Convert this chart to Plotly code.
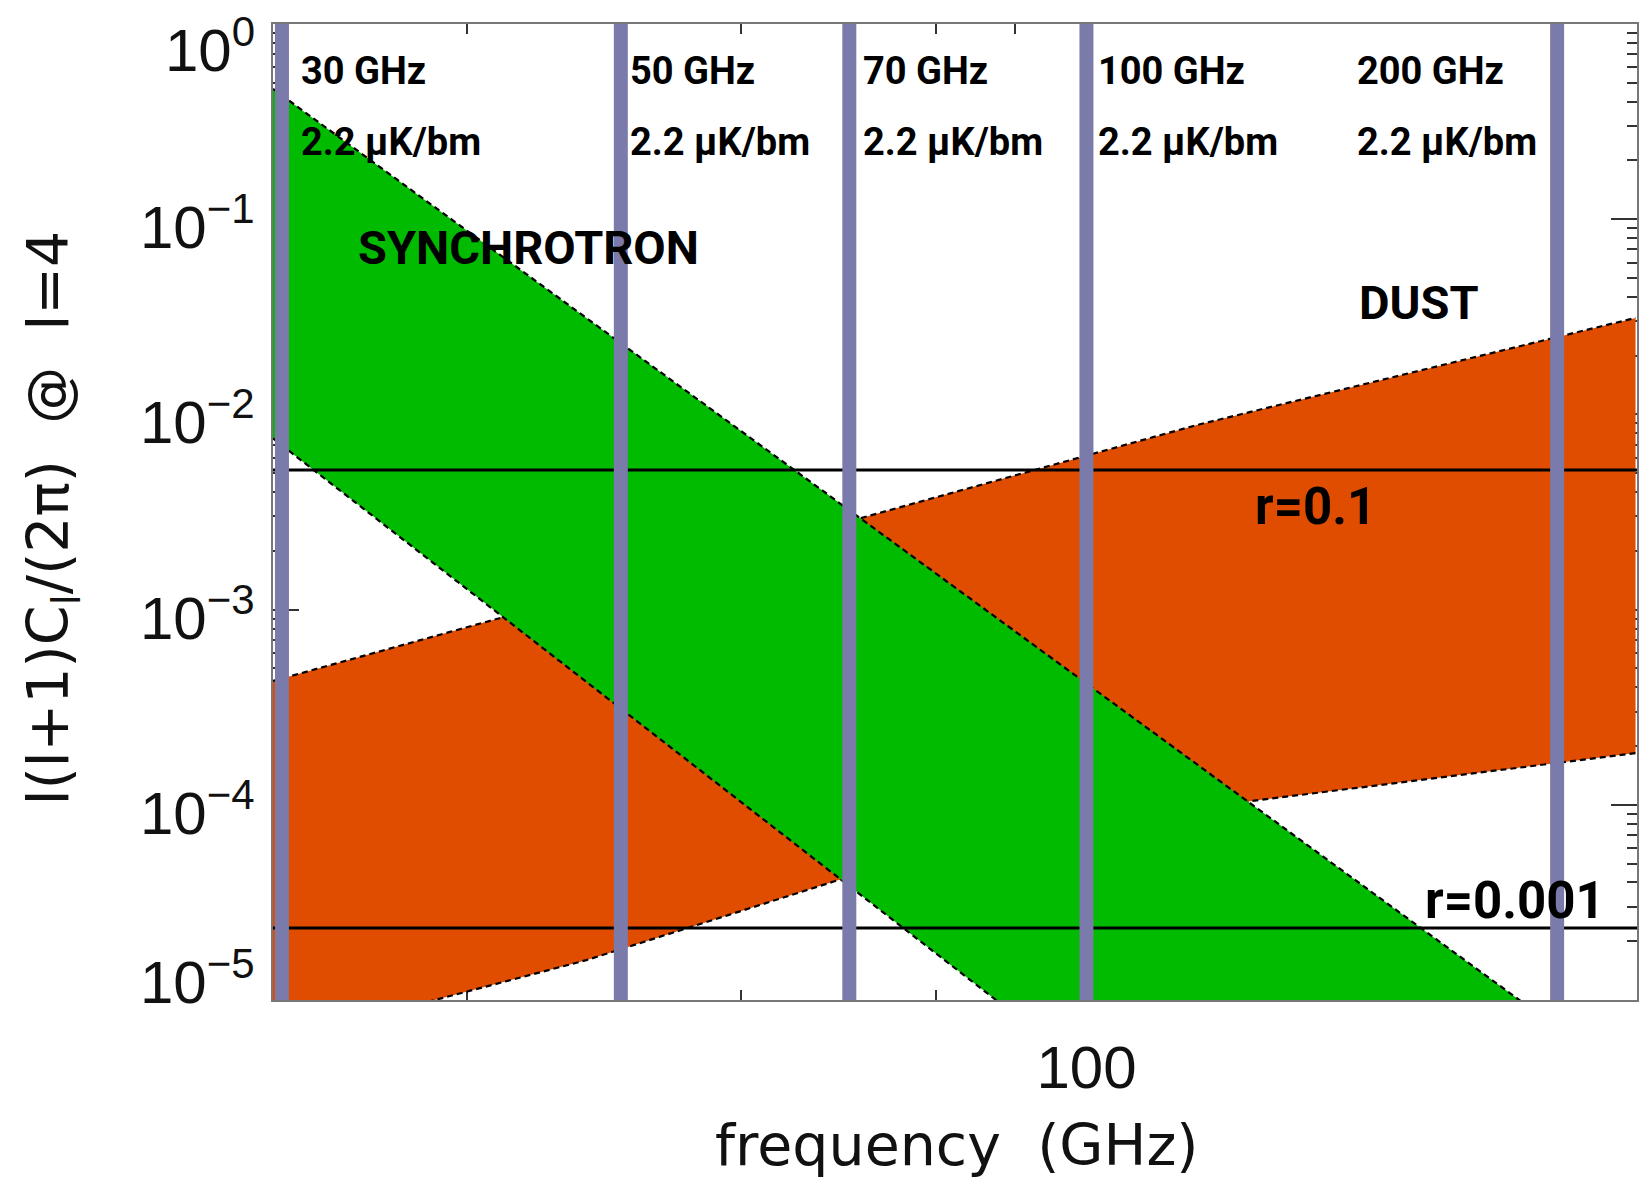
import math
import plotly.graph_objects as go

# ---- data -------------------------------------------------------------
# instrument bands (GHz) with their labels and noise levels
band_centres = [30.4, 50.2, 70.4, 100.0, 200.7]
band_names = ["30 GHz", "50 GHz", "70 GHz", "100 GHz", "200 GHz"]
band_noise = ["2.2 μK/bm", "2.2 μK/bm", "2.2 μK/bm", "2.2 μK/bm", "2.2 μK/bm"]

# synchrotron band, l(l+1)C_l/(2π) at l=4
sync_freq = [30.0, 225.4]
sync_upper = [0.465, 3.67e-6]
sync_lower = [7.53e-3, 2.85e-8]

# thermal dust band
dust_upper_freq = [30.0, 117.8, 225.4]
dust_upper = [4.31e-4, 8.83e-3, 3.12e-2]
dust_lower_freq = [30.0, 47.7, 69.3, 127.6, 225.4]
dust_lower = [6.05e-6, 1.60e-5, 4.12e-5, 1.045e-4, 1.84e-4]

# primordial B-mode reference levels
r_labels = ["r=0.1", "r=0.001"]
r_levels = [5.19e-3, 2.34e-5]

# axis ticks
y_tick_exponents = [0, -1, -2, -3, -4, -5]
x_tick_vals = [100]
x_tick_text = ["100"]
x_minor_vals = [40, 50, 60, 70, 80, 90, 200]

# ---- layout geometry ---------------------------------------------------
W, H = 1639, 1178
ML, MR, MT, MB = 273, 0, 24, 178
PW, PH = W - ML - MR, H - MT - MB
X_LO = math.log10(30.0)
X_HI = X_LO + PW / 1558.0


def px(x):
    return (x - ML) / PW


def py(y):
    return (H - MB - y) / PH


GREEN = "#00bb00"
ORANGE = "#e04d00"
BAR = "#7b7bab"
LABEL_FONT = "Roboto"
AXIS_FONT = "Liberation Sans"
TITLE_FONT = "DejaVu Sans"

fig = go.Figure()


def band(fx_up, fy_up, fx_lo, fy_lo, colour):
    fig.add_trace(go.Scatter(
        x=list(fx_up) + list(fx_lo)[::-1],
        y=list(fy_up) + list(fy_lo)[::-1],
        mode="lines", fill="toself", fillcolor=colour,
        line=dict(width=0), hoverinfo="skip"))
    for fx, fy in ((fx_up, fy_up), (fx_lo, fy_lo)):
        fig.add_trace(go.Scatter(
            x=fx, y=fy, mode="lines",
            line=dict(color="black", width=2.2, dash="6px,4px"),
            hoverinfo="skip"))


band(dust_upper_freq, dust_upper, dust_lower_freq, dust_lower, ORANGE)
band(sync_freq, sync_upper, sync_freq, sync_lower, GREEN)

# r levels: solid horizontal lines across the plot
for lev in r_levels:
    fig.add_shape(type="line", xref="paper", yref="y", x0=0, x1=1,
                  y0=lev, y1=lev, layer="above",
                  line=dict(color="black", width=3))

# band markers
for f in band_centres:
    fig.add_shape(type="line", xref="x", yref="paper", x0=f, x1=f,
                  y0=0, y1=1, layer="above",
                  line=dict(color=BAR, width=14))

ann = []
# band labels
label_left_px = [302, 632, 865, 1100, 1360]
small = dict(xref="paper", yref="paper", xanchor="left", yanchor="middle",
             showarrow=False,
             font=dict(family=LABEL_FONT, size=38, color="black"))
for name, noise, lx in zip(band_names, band_noise, label_left_px):
    ann.append(dict(text="<b>" + name + "</b>", x=px(lx - 3), y=py(70.5),
                    **small))
    ann.append(dict(text="<b>" + noise + "</b>", x=px(lx - 3), y=py(141.5),
                    **small))

big = dict(xref="paper", yref="paper", xanchor="left", yanchor="middle",
           showarrow=False,
           font=dict(family=LABEL_FONT, size=47, color="black"))
ann.append(dict(text="<b>SYNCHROTRON</b>", x=px(356), y=py(247.5), **big))
ann.append(dict(text="<b>DUST</b>", x=px(1359), y=py(302.5), **big))
rfont = dict(family=LABEL_FONT, size=51, color="black")
for lab, (lx, ly) in zip(r_labels, [(1254, 506.5), (1425, 900.5)]):
    ann.append(dict(text="<b>" + lab + "</b>", x=px(lx), y=py(ly),
                    xref="paper", yref="paper", xanchor="left",
                    yanchor="middle", showarrow=False, font=rfont))

# y tick labels (end labels pulled inside the frame)
end_shift = {0: -22, -5: 22}
for e in y_tick_exponents:
    ann.append(dict(
        text="10<sup>" + ("−" if e < 0 else "") + str(abs(e)) + "</sup>",
        xref="paper", yref="y", x=px(257), y=e, xanchor="right",
        yanchor="middle", yshift=end_shift.get(e, -4), showarrow=False,
        font=dict(family=AXIS_FONT, size=60, color="#111111")))

# axis titles
ann.append(dict(text="frequency\u00a0\u00a0(GHz)", xref="paper", yref="paper",
                x=px(958), y=py(1145), xanchor="center", yanchor="middle",
                showarrow=False,
                font=dict(family=TITLE_FONT, size=57, color="#111111")))
ann.append(dict(
    text="l(l+1)C<sub>l</sub>/(2π)\u00a0\u00a0@\u00a0\u00a0l=4",
    xref="paper", yref="paper", x=px(52), y=py(518), textangle=-90,
    xanchor="center", yanchor="middle", showarrow=False,
    font=dict(family=TITLE_FONT, size=57, color="#111111")))

y_minor = [m * 10.0 ** e for e in range(-5, 0) for m in range(2, 10)]

fig.update_layout(
    width=W, height=H,
    margin=dict(l=ML, r=MR, t=MT, b=MB, pad=0),
    paper_bgcolor="white", plot_bgcolor="white",
    showlegend=False,
    annotations=ann,
    xaxis=dict(
        type="log", range=[X_LO, X_HI], showgrid=False, zeroline=False,
        showline=True, linecolor="#777777", linewidth=2, mirror="ticks",
        ticks="inside", ticklen=26, tickwidth=2, tickcolor="#333333",
        tickvals=x_tick_vals, ticktext=x_tick_text,
        tickfont=dict(family=AXIS_FONT, size=60, color="#111111"),
        ticklabelstandoff=14,
        minor=dict(tickvals=x_minor_vals, ticks="inside", ticklen=10,
                   tickwidth=2, tickcolor="#333333"),
        layer="below traces"),
    yaxis=dict(
        type="log", range=[-5, 0], showgrid=False, zeroline=False,
        showline=True, linecolor="#777777", linewidth=2, mirror="ticks",
        ticks="inside", ticklen=26, tickwidth=2, tickcolor="#333333",
        tickvals=[10.0 ** e for e in y_tick_exponents],
        showticklabels=False,
        minor=dict(tickvals=y_minor, ticks="inside", ticklen=10,
                   tickwidth=2, tickcolor="#333333"),
        layer="below traces"),
)

fig.write_html("out.html")
